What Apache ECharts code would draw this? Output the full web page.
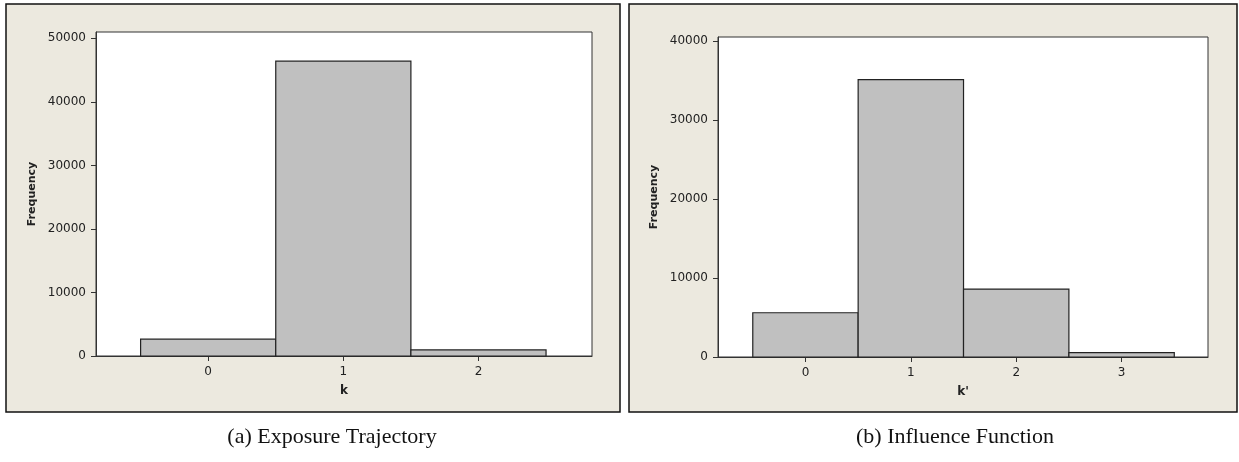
<!DOCTYPE html>
<html>
<head>
<meta charset="utf-8">
<script src="https://cdn.jsdelivr.net/npm/echarts@6/dist/echarts.min.js"></script>
<style>html,body{margin:0;padding:0;background:#fff}#c{width:1239px;height:462px}</style>
</head>
<body>
<div id="c"></div>
<script>
// Data
var kCats = [0, 1, 2];
var kFreq = [2650, 46400, 950];
var kpCats = [0, 1, 2, 3];
var kpFreq = [5600, 35100, 8600, 560];
var yTicksA = [0, 10000, 20000, 30000, 40000, 50000];
var yTicksB = [0, 10000, 20000, 30000, 40000];
var captionA = '(a) Exposure Trajectory';
var captionB = '(b) Influence Function';

var chart = echarts.init(document.getElementById('c'), null, {renderer: 'canvas'});

function histItem(params, api) {
  var x = api.value(0), y = api.value(1);
  var p1 = api.coord([x - 0.5, y]);
  var p2 = api.coord([x + 0.5, 0]);
  return {
    type: 'rect',
    shape: {x: p1[0], y: p1[1], width: p2[0] - p1[0], height: p2[1] - p1[1]},
    style: {fill: '#C0C0C0', stroke: '#222', lineWidth: 1.2}
  };
}

var font = 'DejaVu Sans';
function plain(v) { return String(v); }
function xAxis(gi, min, max, cats, name) {
  return {
    type: 'value', gridIndex: gi, min: min, max: max,
    name: name, nameLocation: 'middle', nameGap: 29,
    nameTextStyle: {fontFamily: font, fontWeight: 'bold', fontSize: 12, color: '#222'},
    axisLine: {show: true, onZero: false, lineStyle: {color: '#333', width: 1}},
    axisTick: {show: true, length: 5, customValues: cats, lineStyle: {color: '#333'}},
    axisLabel: {customValues: cats, formatter: plain, fontFamily: font, fontSize: 12, color: '#222', margin: 10},
    splitLine: {show: false}
  };
}
function yAxis(gi, max, ticks) {
  return {
    type: 'value', gridIndex: gi, min: 0, max: max,
    name: 'Frequency', nameLocation: 'middle', nameGap: 58, nameRotate: 90,
    nameTextStyle: {fontFamily: font, fontWeight: 'bold', fontSize: 11, color: '#222'},
    axisLine: {show: true, onZero: false, lineStyle: {color: '#333', width: 1}},
    axisTick: {show: true, length: 5, customValues: ticks, lineStyle: {color: '#333'}},
    axisLabel: {customValues: ticks, formatter: plain, fontFamily: font, fontSize: 12, color: '#222', margin: 10},
    splitLine: {show: false}
  };
}

chart.setOption({
  animation: false,
  backgroundColor: '#fff',
  graphic: [
    {type: 'rect', z: -10, shape: {x: 6, y: 4, width: 614, height: 408}, style: {fill: '#ECE9DF', stroke: '#111', lineWidth: 1.5}},
    {type: 'rect', z: -10, shape: {x: 629, y: 4, width: 608, height: 408}, style: {fill: '#ECE9DF', stroke: '#111', lineWidth: 1.5}},
    {type: 'text', x: 332, y: 437, style: {text: captionA, font: '22px "Liberation Serif"', fill: '#111', align: 'center', verticalAlign: 'middle'}},
    {type: 'text', x: 955, y: 437, style: {text: captionB, font: '22px "Liberation Serif"', fill: '#111', align: 'center', verticalAlign: 'middle'}}
  ],
  grid: [
    {left: 96, top: 32, width: 496, height: 324, show: true, backgroundColor: '#fff', borderColor: '#333', borderWidth: 1},
    {left: 718, top: 37, width: 490, height: 320, show: true, backgroundColor: '#fff', borderColor: '#333', borderWidth: 1}
  ],
  xAxis: [xAxis(0, -0.83, 2.84, kCats, 'k'), xAxis(1, -0.83, 3.82, kpCats, "k'")],
  yAxis: [yAxis(0, 51000, yTicksA), yAxis(1, 40500, yTicksB)],
  series: [
    {type: 'custom', xAxisIndex: 0, yAxisIndex: 0, renderItem: histItem,
     data: kCats.map(function (c, i) { return [c, kFreq[i]]; })},
    {type: 'custom', xAxisIndex: 1, yAxisIndex: 1, renderItem: histItem,
     data: kpCats.map(function (c, i) { return [c, kpFreq[i]]; })}
  ]
});
</script>
</body>
</html>
